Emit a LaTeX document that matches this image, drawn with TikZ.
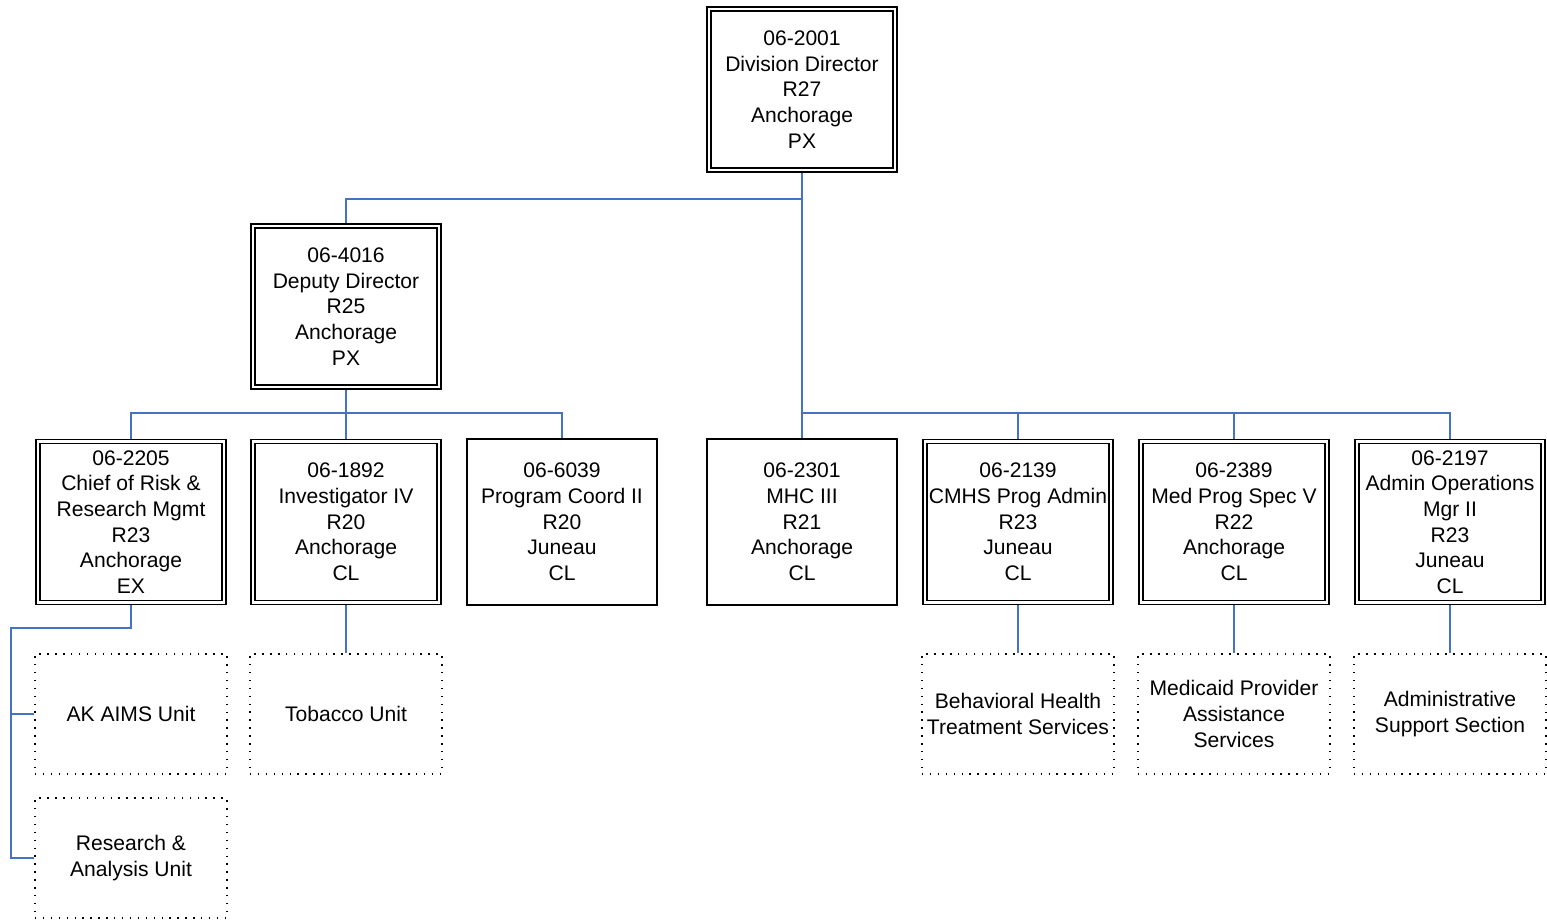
\documentclass[tikz,border=0pt]{standalone}
\usepackage{fontspec}
\setmainfont{Liberation Sans}
\usepackage{tikz}
\usetikzlibrary{positioning}
\usetikzlibrary{calc}

\begin{document}
\begin{tikzpicture}
  [every node/.style={font=\fontsize{12}{14.6}\selectfont,align=center},
  posbox/.style={draw=black,double,double distance=1.6pt,line width=0.9pt,outer sep=1.7pt,inner sep=1pt,minimum width=3.72cm,minimum height=3.22cm},
  plainbox/.style={draw=black,line width=1.1pt,inner sep=1pt,minimum width=3.8cm,minimum height=3.32cm},
  unitbox/.style={draw=black,line width=0.8pt,dash pattern=on 0.8pt off 3.7pt,inner sep=1pt,minimum width=3.84cm,minimum height=2.4cm},
  link/.style={draw=linkblue,line width=1.1pt}]
  \definecolor{linkblue}{RGB}{68,114,196}
  \useasboundingbox (0,0) rectangle (30.94,-18.42);

  \node[posbox] (2001) at (16.04,-1.79) {06-2001\\Division Director\\R27\\Anchorage\\PX};
  \node[posbox] (4016) at (6.92,-6.13) {06-4016\\Deputy Director\\R25\\Anchorage\\PX};

  \node[posbox] (2205) at (2.62,-10.44) {06-2205\\Chief of Risk \&\\Research Mgmt\\R23\\Anchorage\\EX};
  \node[posbox] (1892) at (6.92,-10.44) {06-1892\\Investigator IV\\R20\\Anchorage\\CL};
  \node[plainbox] (6039) at (11.24,-10.44) {06-6039\\Program Coord II\\R20\\Juneau\\CL};
  \node[plainbox] (2301) at (16.04,-10.44) {06-2301\\MHC III\\R21\\Anchorage\\CL};
  \node[posbox] (2139) at (20.36,-10.44) {06-2139\\CMHS Prog Admin\\R23\\Juneau\\CL};
  \node[posbox] (2389) at (24.68,-10.44) {06-2389\\Med Prog Spec V\\R22\\Anchorage\\CL};
  \node[posbox] (2197) at (29.00,-10.44) {06-2197\\Admin Operations\\Mgr II\\R23\\Juneau\\CL};

  \node[unitbox] (aims) at (2.62,-14.28) {AK AIMS Unit};
  \node[unitbox] (research) at (2.62,-17.16) {Research \&\\Analysis Unit};
  \node[unitbox] (tobacco) at (6.92,-14.28) {Tobacco Unit};
  \node[unitbox] (bhts) at (20.36,-14.28) {Behavioral Health\\Treatment Services};
  \node[unitbox] (mpas) at (24.68,-14.28) {Medicaid Provider\\Assistance\\Services};
  \node[unitbox] (admin) at (29.00,-14.28) {Administrative\\Support Section};

  \coordinate (tbus) at (16.04,-3.98);
  \coordinate (bus) at (16.04,-8.26);
  \coordinate (dbus) at (6.92,-8.26);
  \coordinate (rail) at (0.22,-12.56);

  \draw[link] (2001) -- (2301);
  \draw[link] (tbus) -| (4016);
  \draw[link] (bus) -| (2139);
  \draw[link] (bus) -| (2389);
  \draw[link] (bus) -| (2197);

  \draw[link] (4016) -- (1892);
  \draw[link] (dbus) -| (2205);
  \draw[link] (dbus) -| (6039);

  \draw[link] (2205) |- (rail) |- (aims);
  \draw[link] (rail) |- (research);
  \draw[link] (1892) -- (tobacco);
  \draw[link] (2139) -- (bhts);
  \draw[link] (2389) -- (mpas);
  \draw[link] (2197) -- (admin);
\end{tikzpicture}
\end{document}
